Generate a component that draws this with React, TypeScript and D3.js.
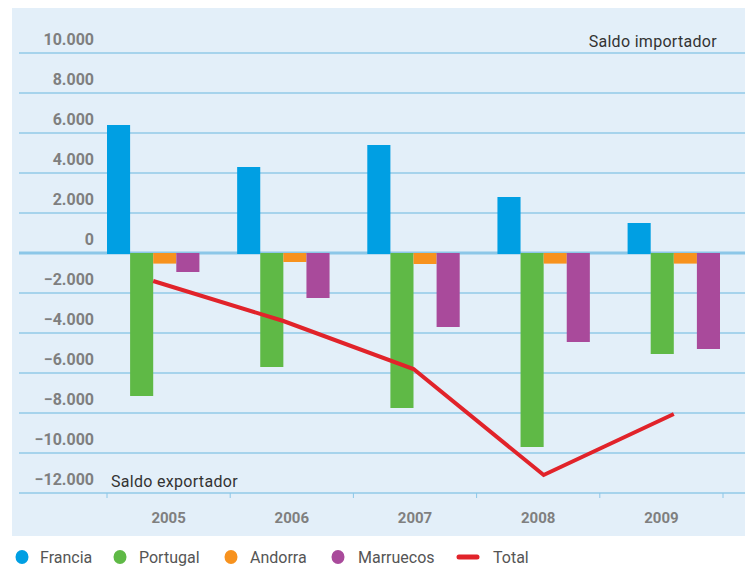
import React from "react";
import * as d3 from "d3";

const years = ["2005", "2006", "2007", "2008", "2009"];
const seriesNames = ["Francia", "Portugal", "Andorra", "Marruecos"];
const francia = [6400, 4300, 5400, 2800, 1500];
const portugal = [-7100, -5650, -7700, -9650, -5000];
const andorra = [-480, -400, -500, -480, -480];
const marruecos = [-900, -2200, -3650, -4400, -4750];
const total = [-1400, -3400, -5800, -11100, -8050];
const yTicks = [10000, 8000, 6000, 4000, 2000, 0, -2000, -4000, -6000, -8000, -10000, -12000];
const colors = ["#009fe3", "#5fb946", "#f7921e", "#a94a9b"];
const totalColor = "#e1232a";

const W = 745;
const H = 575;

export default function App() {
  const y = d3.scaleLinear().domain([-12000, 10000]).range([493, 53]);
  const xAxis = d3.scaleBand<string>().domain(years).range([107, 723]);
  const xGroup = d3.scaleBand<string>().domain(years).range([107, 720]).paddingInner(0.29).paddingOuter(0);
  const xInner = d3.scaleBand<string>().domain(seriesNames).range([0, xGroup.bandwidth()]);
  const allSeries = [francia, portugal, andorra, marruecos];
  const fmt = (v: number) => d3.format(",")(v).replace(/,/g, ".");
  const line = d3
    .line<number>()
    .x((_, i) => (xGroup(years[i]) as number) + xGroup.bandwidth() / 2)
    .y((d) => y(d));
  const tickXs = [...years.map((yr) => xAxis(yr) as number), (xAxis(years[4]) as number) + xAxis.bandwidth()];
  const legend = [
    { name: "Francia", color: colors[0], cx: 22, tx: 40, type: "dot" },
    { name: "Portugal", color: colors[1], cx: 120, tx: 139, type: "dot" },
    { name: "Andorra", color: colors[2], cx: 231, tx: 250, type: "dot" },
    { name: "Marruecos", color: colors[3], cx: 338, tx: 358, type: "dot" },
    { name: "Total", color: totalColor, cx: 468, tx: 493, type: "line" },
  ];
  return (
    <svg
      width={W}
      height={H}
      style={{ position: "absolute", left: 0, top: 0, fontFamily: "Roboto, sans-serif" }}
    >
      <rect x={0} y={0} width={W} height={H} fill="#ffffff" />
      <rect x={12} y={8} width={W - 12} height={528} fill="#e3eff9" />
      {yTicks.map((t) => (
        <g key={t}>
          <line
            x1={19}
            x2={W}
            y1={y(t)}
            y2={y(t)}
            stroke={t === 0 ? "#8cc7e8" : "#a6d3ec"}
            strokeWidth={t === 0 ? 3 : 2}
          />
          <text
            x={94}
            y={y(t) - 8}
            textAnchor="end"
            fontSize={16}
            fontWeight="bold"
            fill="#7f7f7f"
          >
            {fmt(t)}
          </text>
        </g>
      ))}
      {tickXs.map((tx, i) => (
        <line key={i} x1={tx} x2={tx} y1={493} y2={498} stroke="#8cc7e8" strokeWidth={1} />
      ))}
      {years.map((yr) => (
        <text
          key={yr}
          x={(xAxis(yr) as number) + xAxis.bandwidth() / 2}
          y={523}
          textAnchor="middle"
          fontSize={15}
          fontWeight="bold"
          fill="#7f7f7f"
        >
          {yr}
        </text>
      ))}
      {years.map((yr, i) => (
        <g key={yr} transform={`translate(${xGroup(yr)},0)`}>
          {allSeries.map((s, j) => {
            const v = s[i];
            const y0 = y(0);
            const y1 = y(v);
            return (
              <rect
                key={j}
                x={xInner(seriesNames[j]) as number}
                width={xInner.bandwidth()}
                y={Math.min(y0, y1)}
                height={Math.abs(y1 - y0) + 1}
                fill={colors[j]}
              />
            );
          })}
        </g>
      ))}
      <path d={line(total) || ""} fill="none" stroke={totalColor} strokeWidth={4} />
      <text x={717} y={47} textAnchor="end" fontSize={16} letterSpacing={0.3} fill="#333333">
        Saldo importador
      </text>
      <text x={111} y={487} fontSize={16} letterSpacing={0.3} fill="#333333">
        Saldo exportador
      </text>
      {legend.map((l) =>
        l.type === "dot" ? (
          <g key={l.name}>
            <ellipse cx={l.cx} cy={557} rx={6.5} ry={7} fill={l.color} />
            <text x={l.tx} y={563} fontSize={16} fill="#555555">
              {l.name}
            </text>
          </g>
        ) : (
          <g key={l.name}>
            <line x1={459} x2={477} y1={557} y2={557} stroke={l.color} strokeWidth={5} strokeLinecap="round" />
            <text x={l.tx} y={563} fontSize={16} fill="#555555">
              {l.name}
            </text>
          </g>
        )
      )}
    </svg>
  );
}
